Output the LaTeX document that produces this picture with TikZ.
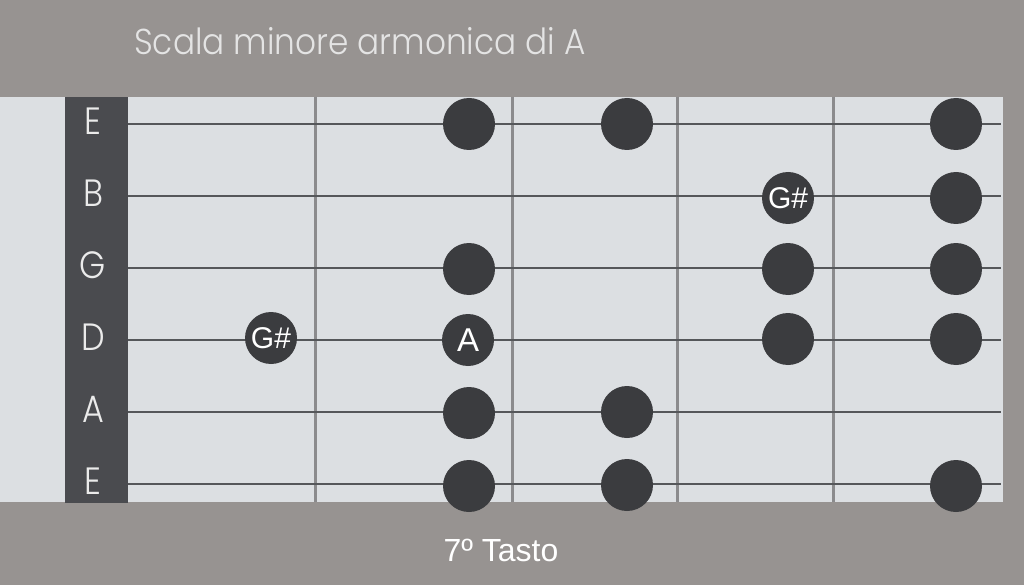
\documentclass[tikz,border=0pt]{standalone}
\usepackage{fontspec}
\setmainfont{Liberation Sans}
\newfontfamily\thinfont{Poppins}[UprightFont={* Light}]
\definecolor{bgc}{HTML}{979391}
\definecolor{boardc}{HTML}{DCDFE2}
\definecolor{stripc}{HTML}{4A4B4F}
\definecolor{dotc}{HTML}{3B3C3F}
\definecolor{fretc}{HTML}{8B8B8D}
\definecolor{stringc}{HTML}{55575A}
\definecolor{titlec}{HTML}{E4E4E4}
\tikzset{
  dotnode/.style={circle,fill=dotc,minimum size=52pt,inner sep=0pt,text=white,font=\fontsize{30}{30}\selectfont},
  fretline/.style={draw=fretc,line width=3pt},
  stringline/.style={draw=stringc,line width=2pt},
  strlabel/.style={text=white!92!black,font=\thinfont\fontsize{38}{38}\selectfont,inner sep=0pt,xscale=0.88,transform shape}
}
\begin{document}
\begin{tikzpicture}[x=1pt,y=-1pt]
\useasboundingbox (0,0) rectangle (1024,585);
\fill[bgc] (0,0) rectangle (1024,585);
\fill[boardc] (0,97) rectangle (1003,502);
\fill[stripc] (65,97) rectangle (128,503);
% title
\node[text=titlec,font=\thinfont\fontsize{36}{36}\selectfont,anchor=base west,inner sep=0pt,xscale=0.91,transform shape] (title) at (134,55) {Scala minore armonica di A};
% frets
\foreach \x/\n in {315/f1,512/f2,677/f3,833/f4}{
  \coordinate (\n t) at (\x,97);
  \coordinate (\n b) at (\x,502);
  \draw[fretline] (\n t) -- (\n b);
}
% strings
\foreach \y/\n/\l in {124/s1/E,196/s2/B,268/s3/G,340/s4/D,412/s5/A,484/s6/E}{
  \coordinate (\n a) at (128,\y);
  \coordinate (\n b) at (1001,\y);
  \draw[stringline] (\n a) -- (\n b);
  \node[strlabel] (\n l) at (93,\y-3) {\l};
}
% dots
\node[dotnode] (d11) at (469,124) {};
\node[dotnode] (d12) at (627,124) {};
\node[dotnode] (d13) at (956,124) {};
\node[dotnode] (d21) at (788,198) {G\#};
\node[dotnode] (d22) at (956,198) {};
\node[dotnode] (d31) at (469,269) {};
\node[dotnode] (d32) at (788,269) {};
\node[dotnode] (d33) at (956,269) {};
\node[dotnode] (d41) at (271,338) {G\#};
\node[dotnode,font=\fontsize{33}{33}\selectfont] (d42) at (468,340) {A};
\node[dotnode] (d43) at (788,339) {};
\node[dotnode] (d44) at (956,339) {};
\node[dotnode] (d51) at (469,413) {};
\node[dotnode] (d52) at (627,412) {};
\node[dotnode] (d61) at (469,486) {};
\node[dotnode] (d62) at (627,485) {};
\node[dotnode] (d63) at (956,486) {};
% bottom label
\node[text=white,font=\fontsize{32}{32}\selectfont,inner sep=0pt] (fret) at (501,550) {7º Tasto};
\end{tikzpicture}
\end{document}
